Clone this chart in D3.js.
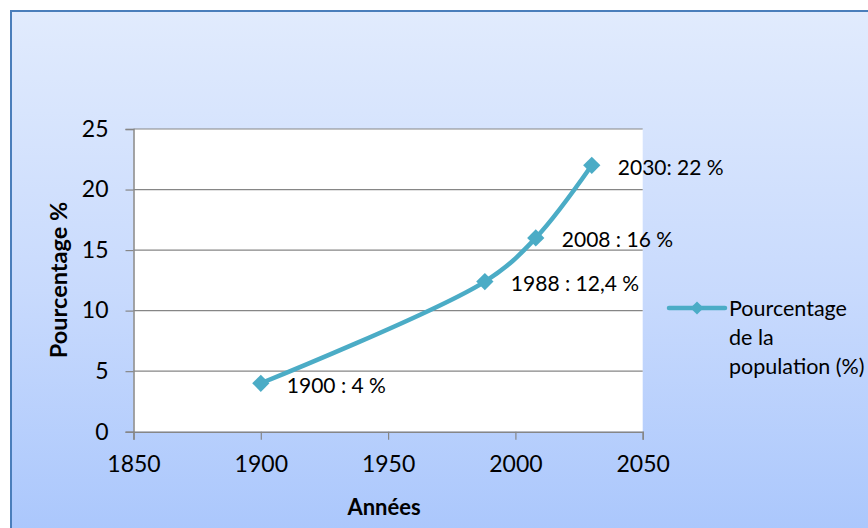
<!DOCTYPE html>
<html>
<head>
<meta charset="utf-8">
<script src="https://cdn.jsdelivr.net/npm/d3@7"></script>
<style>
  html, body { margin: 0; padding: 0; background: #ffffff; }
  svg { display: block; }
  text { font-family: Lato, "Open Sans", "Liberation Sans", sans-serif; fill: #000; }
</style>
</head>
<body>
<svg id="chart" width="868" height="528"></svg>
<script>
// Share of the population, by year
const years = [1900, 1988, 2008, 2030];
const percents = [4, 12.4, 16, 22];
const pointLabels = ["1900 : 4 %", "1988 : 12,4 %", "2008 : 16 %", "2030: 22 %"];
const xTicks = [1850, 1900, 1950, 2000, 2050];
const yTicks = [0, 5, 10, 15, 20, 25];
const xTitle = "Années";
const yTitle = "Pourcentage %";
const legendLines = ["Pourcentage", "de la", "population (%)"];

const lineColor = "#4bacc6";
const gridColor = "#868686";

const svg = d3.select("#chart");

// Background gradient of the chart area
const defs = svg.append("defs");
const grad = defs.append("linearGradient")
  .attr("id", "bg").attr("x1", 0).attr("y1", 0).attr("x2", 0).attr("y2", 1);
grad.append("stop").attr("offset", "0%").attr("stop-color", "#e1ebfd");
grad.append("stop").attr("offset", "50%").attr("stop-color", "#c8dafd");
grad.append("stop").attr("offset", "100%").attr("stop-color", "#a6c4fc");

svg.append("rect")
  .attr("x", 11).attr("y", 11).attr("width", 900).attr("height", 560)
  .attr("fill", "url(#bg)")
  .attr("stroke", "#4a7ebb").attr("stroke-width", 2);

// Plot area
const plot = { left: 133.5, right: 642.7, top: 129, bottom: 431.7 };

const x = d3.scaleLinear().domain([1850, 2050]).range([plot.left, plot.right]);
const y = d3.scaleLinear().domain([0, 25]).range([plot.bottom, plot.top]);

svg.append("rect")
  .attr("x", plot.left).attr("y", plot.top)
  .attr("width", plot.right - plot.left).attr("height", plot.bottom - plot.top)
  .attr("fill", "#ffffff");

// Horizontal gridlines
svg.append("g")
  .selectAll("line")
  .data(yTicks.filter(d => d > 0))
  .join("line")
  .attr("x1", plot.left).attr("x2", plot.right)
  .attr("y1", d => y(d)).attr("y2", d => y(d))
  .attr("stroke", gridColor).attr("stroke-width", 1.2);

// Y axis
const yAxis = svg.append("g")
  .attr("transform", `translate(${plot.left},0)`)
  .call(d3.axisLeft(y).tickValues(yTicks).tickSize(8).tickPadding(17).tickFormat(d3.format("d")));
yAxis.select(".domain").attr("stroke", gridColor).attr("stroke-width", 1.5);
yAxis.selectAll(".tick line").attr("stroke", gridColor).attr("stroke-width", 1.2);
yAxis.selectAll(".tick text").attr("font-size", 23).style("font-family", "Lato, sans-serif").attr("fill", "#000");

// X axis
const xAxis = svg.append("g")
  .attr("transform", `translate(0,${plot.bottom})`)
  .call(d3.axisBottom(x).tickValues(xTicks).tickSize(8).tickPadding(16).tickFormat(d3.format("d")));
xAxis.select(".domain").attr("stroke", gridColor).attr("stroke-width", 1.5);
xAxis.selectAll(".tick line").attr("stroke", gridColor).attr("stroke-width", 1.2);
xAxis.selectAll(".tick text").attr("font-size", 23).style("font-family", "Lato, sans-serif").attr("fill", "#000");

// Axis titles
svg.append("text")
  .attr("x", 384).attr("y", 515)
  .attr("text-anchor", "middle")
  .attr("font-size", 22).attr("font-weight", "bold")
  .text(xTitle);

svg.append("text")
  .attr("transform", "translate(67,280) rotate(-90)")
  .attr("text-anchor", "middle")
  .attr("font-size", 23.5).attr("font-weight", "bold")
  .text(yTitle);

// Series line and markers
const data = years.map((yr, i) => ({ year: yr, value: percents[i], label: pointLabels[i] }));

const line = d3.line()
  .x(d => x(d.year)).y(d => y(d.value))
  .curve(d3.curveCatmullRom.alpha(0.5));

svg.append("path")
  .datum(data)
  .attr("d", line)
  .attr("fill", "none")
  .attr("stroke", lineColor).attr("stroke-width", 4.5)
  .attr("stroke-linecap", "round").attr("stroke-linejoin", "round");

const diamond = d3.symbol().type(d3.symbolDiamond2).size(190);

svg.append("g")
  .selectAll("path")
  .data(data)
  .join("path")
  .attr("transform", d => `translate(${x(d.year)},${y(d.value)})`)
  .attr("d", diamond)
  .attr("fill", lineColor);

// Data labels
svg.append("g")
  .selectAll("text")
  .data(data)
  .join("text")
  .attr("x", d => x(d.year) + 26)
  .attr("y", d => y(d.value) + 2)
  .attr("dy", "0.35em")
  .attr("font-size", 21)
  .text(d => d.label);

// Legend
const legend = svg.append("g");
legend.append("line")
  .attr("x1", 669).attr("x2", 725).attr("y1", 308).attr("y2", 308)
  .attr("stroke", lineColor).attr("stroke-width", 4.5).attr("stroke-linecap", "round");
legend.append("path")
  .attr("transform", "translate(697,308)")
  .attr("d", d3.symbol().type(d3.symbolDiamond2).size(110))
  .attr("fill", lineColor);
legend.selectAll("text.leg")
  .data(legendLines)
  .join("text")
  .attr("class", "leg")
  .attr("x", 729)
  .attr("y", (d, i) => 316 + i * 29)
  .attr("font-size", 21.5)
  .text(d => d);
</script>
</body>
</html>
